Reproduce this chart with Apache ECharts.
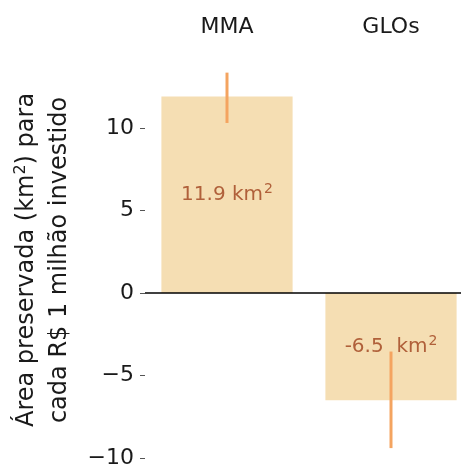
<!DOCTYPE html>
<html>
<head>
<meta charset="utf-8">
<script src="https://cdn.jsdelivr.net/npm/echarts@6/dist/echarts.min.js"></script>
<style>
  html, body { margin: 0; padding: 0; background: #fff; overflow: hidden; }
  /* the plot area runs a little past the right edge of the page */
  #chart { width: 473px; height: 469px; }
</style>
</head>
<body>
<div id="chart"></div>
<script>
// Programmes compared
const categories = ['MMA', 'GLOs'];
// Preserved area (km²) per R$ 1 million invested
const values = [11.9, -6.5];
// Uncertainty range drawn as a vertical line on each bar
const errLow = [10.3, -9.4];
const errHigh = [13.35, -3.55];
// Y tick positions
const yTicks = [-10, -5, 0, 5, 10];

const FONT = 'DejaVu Sans';
const chart = echarts.init(document.getElementById('chart'), null, { renderer: 'canvas' });

const fmtNum = v => String(v).replace('-', '\u2212');

chart.setOption({
  animation: false,
  backgroundColor: '#ffffff',
  grid: { left: 145, top: 52, width: 328, height: 420, containLabel: false },
  xAxis: {
    type: 'category',
    data: categories,
    position: 'top',
    axisLine: { show: false },
    axisTick: { show: false },
    axisLabel: { fontFamily: FONT, fontSize: 22, color: '#1a1a1a', margin: 14 },
    splitLine: { show: false }
  },
  yAxis: {
    type: 'value',
    min: -10.6,
    max: 14.6,
    axisLine: { show: false },
    splitLine: { show: false },
    axisTick: { show: true, length: 5, lineStyle: { color: '#555', width: 1 }, customValues: yTicks },
    axisLabel: {
      fontFamily: FONT, fontSize: 22, color: '#1a1a1a', margin: 11,
      customValues: yTicks,
      formatter: v => fmtNum(v)
    },
    name: '{t|\u00c1rea preservada (km}{s|2}{t|) para}\n{t|cada R$ 1 milh\u00e3o investido}',
    nameLocation: 'middle',
    nameRotate: 90,
    nameGap: 64,
    nameTextStyle: {
      fontFamily: FONT, fontSize: 24, color: '#1a1a1a', lineHeight: 33, align: 'center',
      rich: {
        t: { fontFamily: FONT, fontSize: 24, color: '#1a1a1a', lineHeight: 33 },
        s: { fontFamily: FONT, fontSize: 16, color: '#1a1a1a', lineHeight: 33, padding: [0, 0, 12, 0] }
      }
    }
  },
  series: [
    {
      type: 'bar',
      data: values,
      barWidth: '80%',
      itemStyle: { color: '#f5deb3' },
      label: {
        show: true,
        position: 'inside',
        fontFamily: FONT,
        fontSize: 20,
        color: '#b0603a',
        formatter: p => '{t|' + p.value.toFixed(1) + (p.value < 0 ? '  ' : ' ') + 'km}{s|2}',
        rich: {
          t: { fontFamily: FONT, fontSize: 20, color: '#b0603a', lineHeight: 24 },
          s: { fontFamily: FONT, fontSize: 14, color: '#b0603a', lineHeight: 24, padding: [0, 0, 10, 1] }
        }
      },
      markLine: {
        silent: true,
        symbol: 'none',
        label: { show: false },
        lineStyle: { color: '#000', width: 1.5, type: 'solid' },
        data: [{ yAxis: 0 }]
      }
    },
    {
      type: 'custom',
      data: categories.map((c, i) => [i, errLow[i], errHigh[i]]),
      renderItem: (params, api) => {
        const p1 = api.coord([api.value(0), api.value(1)]);
        const p2 = api.coord([api.value(0), api.value(2)]);
        return {
          type: 'line',
          shape: { x1: p1[0], y1: p1[1], x2: p2[0], y2: p2[1] },
          style: { stroke: '#f4a460', lineWidth: 3 }
        };
      },
      z: 3
    }
  ]
});
</script>
</body>
</html>
